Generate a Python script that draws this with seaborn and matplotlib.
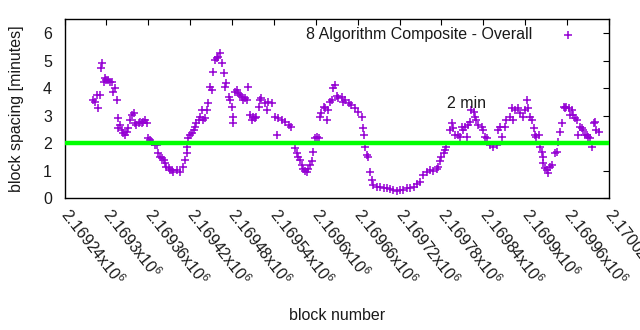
import matplotlib
matplotlib.use("Agg")
import matplotlib.pyplot as plt
import seaborn as sns
import pandas as pd

block = [
    2169281, 2169284, 2169286, 2169288, 2169291, 2169292, 2169293, 2169296, 2169298, 2169300,
    2169303, 2169305, 2169308, 2169310, 2169312, 2169315, 2169316, 2169317, 2169320, 2169322,
    2169324, 2169327, 2169329, 2169331, 2169334, 2169336, 2169339, 2169341, 2169343, 2169346,
    2169348, 2169351, 2169353, 2169355, 2169358, 2169360, 2169362, 2169365, 2169370, 2169372,
    2169374, 2169377, 2169379, 2169382, 2169384, 2169386, 2169389, 2169391, 2169394, 2169396,
    2169401, 2169405, 2169410, 2169413, 2169415, 2169416, 2169417, 2169420, 2169422, 2169425,
    2169427, 2169429, 2169432, 2169434, 2169437, 2169439, 2169441, 2169444, 2169446, 2169448,
    2169451, 2169453, 2169456, 2169458, 2169460, 2169463, 2169465, 2169468, 2169470, 2169472,
    2169475, 2169477, 2169480, 2169481, 2169482, 2169484, 2169487, 2169489, 2169491, 2169494,
    2169496, 2169499, 2169501, 2169503, 2169506, 2169508, 2169510, 2169513, 2169515, 2169518,
    2169520, 2169522, 2169527, 2169530, 2169532, 2169537, 2169542, 2169544, 2169546, 2169551,
    2169556, 2169561, 2169565, 2169570, 2169573, 2169575, 2169577, 2169580, 2169582, 2169584,
    2169587, 2169589, 2169592, 2169594, 2169596, 2169599, 2169601, 2169604, 2169606, 2169608,
    2169611, 2169613, 2169616, 2169618, 2169620, 2169623, 2169625, 2169627, 2169630, 2169632,
    2169637, 2169639, 2169642, 2169647, 2169651, 2169656, 2169661, 2169666, 2169668, 2169669,
    2169670, 2169673, 2169675, 2169678, 2169680, 2169682, 2169687, 2169692, 2169697, 2169702,
    2169706, 2169711, 2169716, 2169721, 2169725, 2169730, 2169735, 2169740, 2169745, 2169749,
    2169754, 2169759, 2169764, 2169768, 2169773, 2169775, 2169778, 2169780, 2169783, 2169785,
    2169787, 2169792, 2169795, 2169797, 2169799, 2169804, 2169807, 2169809, 2169811, 2169814,
    2169816, 2169818, 2169821, 2169823, 2169826, 2169828, 2169830, 2169833, 2169838, 2169840,
    2169842, 2169845, 2169850, 2169854, 2169859, 2169861, 2169864, 2169866, 2169871, 2169873,
    2169878, 2169881, 2169883, 2169885, 2169890, 2169892, 2169897, 2169900, 2169902, 2169904,
    2169907, 2169909, 2169912, 2169914, 2169916, 2169919, 2169921, 2169924, 2169925, 2169926,
    2169928, 2169931, 2169933, 2169935, 2169938, 2169943, 2169945, 2169947, 2169950, 2169952,
    2169955, 2169957, 2169959, 2169962, 2169964, 2169967, 2169969, 2169971, 2169974, 2169976,
    2169978, 2169981, 2169983, 2169986, 2169988, 2169990, 2169993, 2169995, 2169998, 2170000,
    2170002, 2170005,
]

spacing = [
    3.57, 3.51, 3.75, 3.27, 3.75, 4.72, 4.90, 4.24, 4.36, 4.30,
    4.30, 4.24, 4.24, 3.87, 4.00, 3.57, 2.54, 2.90, 2.66, 2.48,
    2.36, 2.30, 2.42, 2.54, 2.84, 3.02, 3.08, 2.72, 2.66, 2.72,
    2.78, 2.72, 2.78, 2.84, 2.72, 2.17, 2.11, 2.05, 1.93, 1.93,
    1.63, 1.50, 1.44, 1.38, 1.26, 1.14, 1.08, 1.02, 1.02, 0.96,
    1.02, 0.96, 1.14, 1.38, 1.63, 1.87, 2.17, 2.30, 2.36, 2.48,
    2.60, 2.72, 2.84, 2.96, 3.20, 2.84, 2.90, 3.20, 3.45, 4.05,
    3.93, 4.60, 5.03, 5.09, 5.15, 5.27, 4.90, 4.54, 4.05, 4.18,
    3.69, 3.57, 3.33, 2.96, 2.72, 3.87, 3.93, 3.81, 3.75, 3.69,
    3.57, 3.63, 3.57, 4.05, 3.02, 2.84, 2.96, 2.90, 2.96, 3.33,
    3.57, 3.63, 3.46, 3.20, 3.51, 3.46, 2.96, 2.30, 2.90, 2.84,
    2.78, 2.66, 2.60, 1.81, 1.63, 1.50, 1.38, 1.20, 1.07, 1.00,
    0.95, 1.06, 1.20, 1.35, 1.69, 2.17, 2.23, 2.20, 2.96, 3.08,
    3.33, 3.27, 2.84, 3.20, 3.51, 3.57, 4.00, 4.12, 3.70, 3.65,
    3.69, 3.51, 3.57, 3.45, 3.39, 3.27, 3.14, 2.96, 2.54, 2.30,
    1.87, 1.57, 1.50, 0.96, 0.66, 0.47, 0.41, 0.41, 0.38, 0.35,
    0.32, 0.29, 0.27, 0.29, 0.30, 0.35, 0.38, 0.41, 0.50, 0.60,
    0.84, 0.96, 1.02, 0.98, 1.05, 1.14, 1.33, 1.50, 1.63, 1.75,
    1.87, 2.48, 2.72, 2.54, 2.30, 2.30, 2.23, 2.60, 2.48, 2.60,
    2.23, 2.66, 2.78, 3.20, 3.14, 2.96, 2.84, 2.66, 2.60, 2.48,
    2.23, 2.17, 1.93, 1.87, 1.93, 2.48, 2.60, 2.23, 2.60, 2.84,
    2.96, 3.27, 2.84, 3.20, 3.27, 3.08, 2.96, 3.20, 3.57, 3.27,
    2.96, 2.84, 2.54, 2.30, 2.23, 2.30, 1.87, 1.69, 1.50, 1.26,
    1.08, 1.02, 0.90, 1.14, 1.20, 1.63, 1.69, 2.05, 2.42, 2.72,
    3.33, 3.27, 3.33, 3.27, 3.02, 3.20, 3.02, 2.90, 2.84, 2.30,
    2.60, 2.54, 2.48, 2.30, 2.30, 2.23, 2.17, 1.87, 2.72, 2.78,
    2.48, 2.42,
]

x_ticks = [2169240, 2169300, 2169360, 2169420, 2169480, 2169540, 2169600,
           2169660, 2169720, 2169780, 2169840, 2169900, 2169960, 2170020]
x_tick_labels = ["2.16924", "2.1693", "2.16936", "2.16942", "2.16948", "2.16954", "2.1696",
                 "2.16966", "2.16972", "2.16978", "2.16984", "2.1699", "2.16996", "2.17002"]
y_ticks = [0, 1, 2, 3, 4, 5, 6]
threshold = 2
series_label = "8 Algorithm Composite - Overall"
threshold_label = "2 min"
threshold_label_pos = (2169788, 3.45)

sns.set_theme(style="white")
plt.rcParams["font.family"] = ["Liberation Sans", "DejaVu Sans"]
plt.rcParams["mathtext.fontset"] = "custom"
plt.rcParams["mathtext.rm"] = "Liberation Sans"
plt.rcParams["mathtext.it"] = "Liberation Sans:italic"

FS = 11.5
TXT = "#1a1a1a"
df = pd.DataFrame({"block": block, "spacing": spacing})

fig = plt.figure(figsize=(6.4, 3.3), dpi=100)
ax = fig.add_axes([0.1008, 0.4, 0.8508, 0.541])

sns.scatterplot(data=df, x="block", y="spacing", marker="+", color="#9400D3",
                s=34, linewidth=1.1, ax=ax, label=series_label, zorder=2)
ax.axhline(threshold, color="#00FF00", lw=3.2, zorder=3)
ax.text(threshold_label_pos[0], threshold_label_pos[1], threshold_label,
        fontsize=FS, ha="left", va="center", color=TXT)

ax.set_xlim(2169240, 2170020)
ax.set_ylim(0, 6.5)
ax.set_xticks(x_ticks)
ax.set_xticklabels([f"{t}x10$^{{6}}$" for t in x_tick_labels], rotation=-52,
                   ha="left", va="center", rotation_mode="anchor", fontsize=FS)
ax.set_yticks(y_ticks)
ax.set_yticklabels([str(v) for v in y_ticks], fontsize=FS)
ax.tick_params(axis="both", direction="in", length=4.5, width=0.8, color="black",
               top=True, right=True, labeltop=False, labelright=False, pad=9,
               labelcolor=TXT)
ax.tick_params(axis="x", pad=9)
for sp in ax.spines.values():
    sp.set_color("black")
    sp.set_linewidth(1.0)

ax.set_xlabel("block number", fontsize=FS, color=TXT, labelpad=14)
ax.set_ylabel("block spacing [minutes]", fontsize=FS, color=TXT, labelpad=14)

leg = ax.legend(loc="upper right", bbox_to_anchor=(0.968, 1.0), frameon=False,
                markerfirst=False, fontsize=FS, handletextpad=1.2, borderaxespad=0.3,
                borderpad=0.2)
for t in leg.get_texts():
    t.set_color(TXT)

fig.savefig("out.png", dpi=100)
